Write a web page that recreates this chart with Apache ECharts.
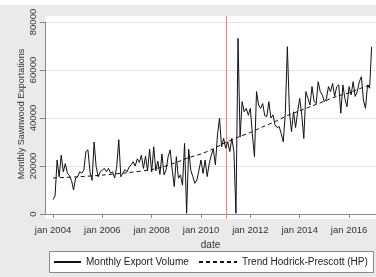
<!DOCTYPE html>
<html>
<head>
<meta charset="utf-8">
<script src="https://cdn.jsdelivr.net/npm/echarts@6/dist/echarts.min.js"></script>
<style>
  html, body { margin: 0; padding: 0; background: #eaeaea; }
  #chart { width: 376px; height: 277px; }
</style>
</head>
<body>
<div id="chart"></div>
<script>
// monthly export volume, jan 2004 .. dec 2016 (12 values per line)
var startYear = 2004;
var exportVolume = [
  6000, 7500, 22500, 15500, 24500, 17600, 21000, 17000, 16000, 14000, 10000, 15000,
  15500, 17600, 17000, 18300, 26000, 26700, 17600, 14000, 30000, 19700, 15500, 17600,
  18300, 19000, 17600, 19000, 17000, 17600, 15000, 19700, 31000, 15500, 17000, 18500,
  17600, 19500, 20500, 21800, 20000, 23000, 21500, 24500, 19000, 24000, 18000, 27000,
  17500, 28000, 18000, 22000, 16500, 25000, 16300, 18300, 23900, 26700, 18300, 11400,
  23900, 14900, 16300, 12000, 29400, 300, 27000, 18300, 15600, 12800, 14200, 18300,
  22500, 16900, 22500, 15600, 21100, 24500, 27000, 20500, 32900, 39900, 28000, 31500,
  27400, 30100, 26000, 31500, 26000, 300, 73200, 32000, 46800, 42600, 44000, 41200,
  44000, 33000, 23900, 51000, 45400, 44000, 46000, 41000, 40600, 46800, 40000, 41300,
  37100, 36000, 36500, 33500, 30100, 42000, 69700, 42600, 34300, 42600, 36000, 42500,
  48200, 41200, 31500, 51000, 48200, 45400, 53100, 47000, 46000, 55100, 51000, 49600,
  46800, 48000, 53100, 51000, 54400, 49000, 53000, 53800, 42000, 53800, 48000, 44700,
  53100, 49600, 55100, 49000, 51000, 55100, 57200, 47500, 44000, 53800, 52400, 69700
];

// HP trend
var trendDates = [2004, 2005, 2006, 2007, 2008, 2008.5, 2009, 2009.5, 2010, 2010.5,
  2011, 2011.5, 2012, 2012.5, 2013, 2013.5, 2014, 2014.5, 2015, 2015.5, 2016, 2016.5, 2016.92];
var trendValues = [15000, 15500, 16200, 17200, 18500, 19800, 21500, 23500, 25000, 27200,
  29800, 32000, 34000, 36300, 38500, 41000, 43000, 45000, 47000, 49000, 50500, 52500, 54000];

var xTickYears = [2004, 2006, 2008, 2010, 2012, 2014, 2016];
// vertical break line, drawn over the whole plot region
var breakDate = 2011.03;
var breakSpan = [-2100, 82500];

var font = "'Liberation Sans', Arial, sans-serif";

var volumeData = exportVolume.map(function (v, i) { return [startYear + i / 12, v]; });
var trendData = trendDates.map(function (d, i) { return [d, trendValues[i]]; });
var breakData = breakSpan.map(function (v) { return [breakDate, v]; });

var myChart = echarts.init(document.getElementById('chart'));

var legendBase = {
  top: 257,
  padding: 0,
  itemHeight: 10,
  itemStyle: { opacity: 0 },
  textStyle: { fontSize: 10, color: '#222', fontFamily: font }
};

var option = {
  animation: false,
  backgroundColor: '#eaeaea',
  grid: { left: 45, right: 0, top: 22, bottom: 63 },
  graphic: [
    { type: 'rect', z: -1, silent: true, shape: { x: 0, y: 0, width: 376, height: 5 }, style: { fill: '#fff' } },
    { type: 'rect', z: -1, silent: true, shape: { x: 45, y: 16, width: 331, height: 203 }, style: { fill: '#fff' } },
    { type: 'rect', z: -1, silent: true, shape: { x: 49.5, y: 251.5, width: 324, height: 21 },
      style: { fill: '#fff', stroke: '#8a8a8a', lineWidth: 1 } },
    { type: 'text', silent: true, x: 22, y: 114, rotation: Math.PI / 2,
      style: { text: 'Monthly Sawnwood Exportations', font: '9px ' + font, fill: '#333',
        textAlign: 'center', textVerticalAlign: 'middle' } }
  ],
  xAxis: {
    type: 'value',
    min: 2003.676,
    max: 2017.093,
    offset: 5,
    name: 'date',
    nameLocation: 'middle',
    nameGap: 17,
    nameTextStyle: { fontSize: 10, color: '#333', fontFamily: font },
    axisLine: { lineStyle: { color: '#888' } },
    axisTick: { length: 4, lineStyle: { color: '#888' }, customValues: xTickYears },
    axisLabel: {
      customValues: xTickYears,
      formatter: function (v) { return 'jan ' + v; },
      fontSize: 9.5, color: '#333', fontFamily: font, margin: 6
    },
    splitLine: { show: false }
  },
  yAxis: {
    type: 'value',
    min: 0,
    max: 80000,
    interval: 20000,
    axisLine: { show: true, lineStyle: { color: '#888' } },
    axisTick: { show: true, length: 5, lineStyle: { color: '#888' } },
    axisLabel: {
      rotate: 90, fontSize: 9.5, color: '#333', fontFamily: font, margin: 7,
      formatter: function (v) { return String(v); }
    },
    splitLine: { show: true, lineStyle: { color: '#e4e4e4', width: 1 } }
  },
  legend: [
    Object.assign({}, legendBase, { data: ['Monthly Export Volume'], left: 53, itemWidth: 27 }),
    Object.assign({}, legendBase, { data: ['Trend Hodrick-Prescott (HP)'], left: 198, itemWidth: 38 })
  ],
  series: [
    {
      name: 'break',
      type: 'line',
      symbol: 'none',
      clip: false,
      silent: true,
      data: breakData,
      lineStyle: { color: '#f07f7f', width: 1 },
      itemStyle: { color: '#f07f7f' },
      z: 1
    },
    {
      name: 'Monthly Export Volume',
      type: 'line',
      symbol: 'none',
      data: volumeData,
      lineStyle: { color: '#111', width: 1 },
      itemStyle: { color: '#111' },
      z: 3
    },
    {
      name: 'Trend Hodrick-Prescott (HP)',
      type: 'line',
      symbol: 'none',
      smooth: 0.3,
      data: trendData,
      lineStyle: { color: '#111', width: 1, type: [4, 3] },
      itemStyle: { color: '#111' },
      z: 4
    }
  ]
};

myChart.setOption(option);
</script>
</body>
</html>
